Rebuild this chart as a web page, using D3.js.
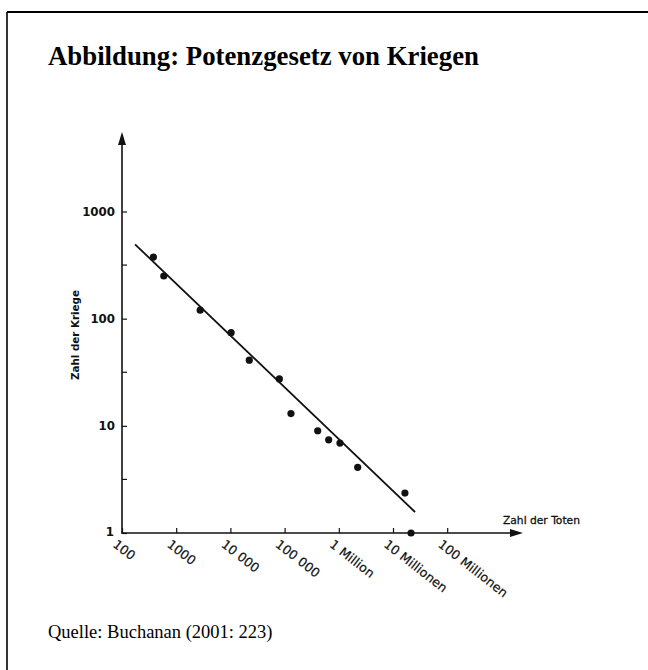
<!DOCTYPE html>
<html><head><meta charset="utf-8">
<script src="https://cdn.jsdelivr.net/npm/d3@7"></script>
<style>
html,body{margin:0;padding:0;background:#fff;}
svg{display:block;}
</style></head>
<body>
<script>
// ---- data ----
const deaths = [380, 590, 2770, 10300, 22300, 80000, 131000, 408000, 650000, 1050000, 2230000, 16600000, 21500000];
const wars   = [376, 250, 120, 74, 41, 27.4, 13, 9.0, 7.4, 6.9, 4.1, 2.36, 1];
const fitDeaths = [174, 25500000];
const fitWars = [494, 1.57];
const xTickValues = [100, 1000, 10000, 100000, 1000000, 10000000, 100000000];
const xTickLabels = ["100", "1000", "10 000", "100 000", "1 Million", "10 Millionen", "100 Millionen"];
const yTickValues = [1, 10, 100, 1000];
const yTickLabels = ["1", "10", "100", "1000"];
const yMinorTicks = [Math.sqrt(10), Math.sqrt(1000), Math.sqrt(100000)];
const title = "Abbildung: Potenzgesetz von Kriegen";
const source = "Quelle: Buchanan (2001: 223)";
const xTitle = "Zahl der Toten";
const yTitle = "Zahl der Kriege";

const W = 648, H = 670;
const svg = d3.select("body").append("svg").attr("width", W).attr("height", H);

// frame
svg.append("line").attr("x1", 7).attr("y1", 12).attr("x2", W).attr("y2", 12)
  .attr("stroke", "#000").attr("stroke-width", 2);
svg.append("line").attr("x1", 7).attr("y1", 12).attr("x2", 7).attr("y2", H)
  .attr("stroke", "#000").attr("stroke-width", 1.6);

svg.append("text").attr("x", 48).attr("y", 65).text(title)
  .attr("font-family", "Liberation Serif, Times New Roman, serif")
  .attr("font-weight", "bold").attr("font-size", 26.8).attr("fill", "#000");
svg.append("text").attr("x", 48).attr("y", 638).text(source)
  .attr("font-family", "Liberation Serif, Times New Roman, serif")
  .attr("font-size", 18.5).attr("fill", "#000");

const x0 = 122, y0 = 533;
const x = d3.scaleLog().domain([100, 1e8]).range([x0, 447.2]);
const y = d3.scaleLog().domain([1, 1000]).range([y0, 211.5]);

const sans = "DejaVu Sans, sans-serif";
const ink = "#111";

// axes lines with arrows
svg.append("line").attr("x1", x0).attr("y1", y0 + 0.5).attr("x2", x0).attr("y2", 140)
  .attr("stroke", ink).attr("stroke-width", 1.6);
svg.append("path").attr("d", `M${x0},132 L${x0-4},145 L${x0+4},145 Z`).attr("fill", ink);
svg.append("line").attr("x1", x0 - 0.5).attr("y1", y0).attr("x2", 514).attr("y2", y0)
  .attr("stroke", ink).attr("stroke-width", 1.6);
svg.append("path").attr("d", `M523,${y0} L510,${y0-4} L510,${y0+4} Z`).attr("fill", ink);

// y axis
const yAxis = d3.axisLeft(y).tickValues(yTickValues)
  .tickFormat((d, i) => yTickLabels[i]).tickSize(-5).tickPadding(7);
const gy = svg.append("g").attr("transform", `translate(${x0},0)`).call(yAxis);
gy.select(".domain").remove();
gy.selectAll(".tick line").attr("stroke", ink).attr("stroke-width", 1.2);
gy.selectAll(".tick text").attr("font-family", sans).attr("font-weight", "bold")
  .attr("font-size", 11.8).attr("fill", ink);
gy.selectAll(".tick").filter(d => d === 1).select("text").attr("dy", "0.2em").attr("x", -8);

svg.append("g").selectAll("line").data(yMinorTicks).join("line")
  .attr("x1", x0).attr("x2", x0 + 5).attr("y1", d => y(d)).attr("y2", d => y(d))
  .attr("stroke", ink).attr("stroke-width", 1.2);

// x axis
const xAxis = d3.axisBottom(x).tickValues(xTickValues)
  .tickFormat((d, i) => xTickLabels[i]).tickSize(-5);
const gx = svg.append("g").attr("transform", `translate(0,${y0})`).call(xAxis);
gx.select(".domain").remove();
gx.selectAll(".tick line").attr("stroke", ink).attr("stroke-width", 1.2);
gx.selectAll(".tick text").attr("font-family", sans).attr("font-size", 12.6)
  .attr("fill", ink).attr("text-anchor", "start").attr("dy", null).attr("y", null)
  .attr("stroke", ink).attr("stroke-width", 0.2)
  .attr("transform", "translate(-10.5,13) rotate(38)");

// axis titles
svg.append("text").attr("x", 503).attr("y", 524).text(xTitle)
  .attr("font-family", sans).attr("font-size", 10.7).attr("fill", ink)
  .attr("stroke", ink).attr("stroke-width", 0.3);
svg.append("text").attr("transform", "translate(78.5,335) rotate(-90)")
  .attr("text-anchor", "middle").text(yTitle)
  .attr("font-family", sans).attr("font-weight", "bold").attr("font-size", 10.3).attr("fill", ink);

// fit line
svg.append("line")
  .attr("x1", x(fitDeaths[0])).attr("y1", y(fitWars[0]))
  .attr("x2", x(fitDeaths[1])).attr("y2", y(fitWars[1]))
  .attr("stroke", ink).attr("stroke-width", 1.8);

// points
svg.append("g").selectAll("circle").data(deaths).join("circle")
  .attr("cx", d => x(d)).attr("cy", (d, i) => y(wars[i])).attr("r", 3.6).attr("fill", ink);
</script>
</body></html>
